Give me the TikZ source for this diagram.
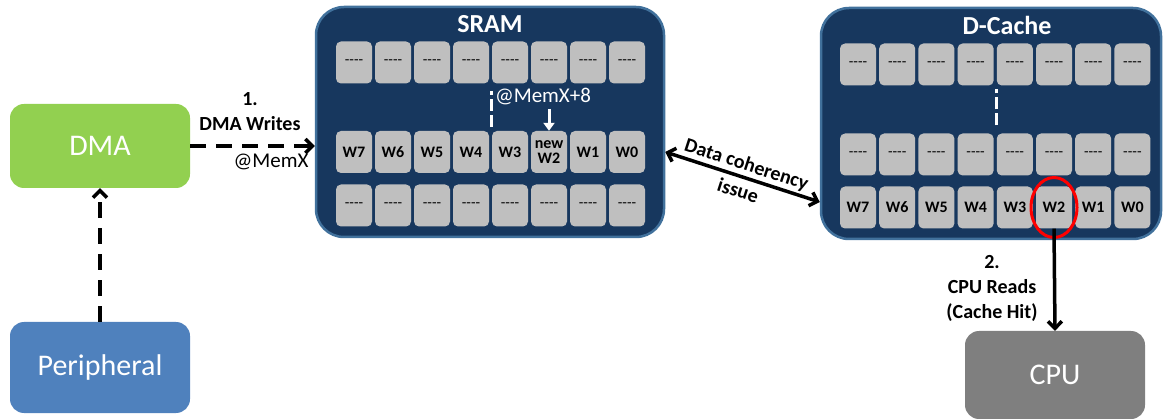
\documentclass[tikz,border=0pt]{standalone}
\usepackage{fontspec}
\setmainfont{Carlito}
\usetikzlibrary{arrows.meta,shapes.geometric}
\definecolor{dmagreen}{HTML}{92D050}
\definecolor{periblue}{HTML}{4F81BD}
\definecolor{cpugray}{HTML}{7F7F7F}
\definecolor{navy}{HTML}{17375E}
\definecolor{navyedge}{HTML}{41719C}
\definecolor{cellgray}{HTML}{BFBFBF}
\newcommand\dashes{-{}-{}-{}-}
\begin{document}
\begin{tikzpicture}[x=1pt,y=-1pt,
  blk/.style={rounded corners=14pt, minimum width=180pt, inner sep=0pt, text=white, font=\fontsize{30}{36}\selectfont},
  mem/.style={fill=navy, draw=navyedge, line width=2.5pt, rounded corners=28pt, inner sep=0pt},
  title/.style={text=white, font=\fontsize{26}{30}\selectfont\bfseries},
  cell/.style={fill=cellgray, rounded corners=5pt, minimum width=36pt, minimum height=42pt, inner sep=0pt, align=center, font=\fontsize{16}{15}\selectfont\bfseries},
  blank/.style={cell, font=\fontsize{15}{15}\selectfont},
  lbl/.style={font=\fontsize{20}{25}\selectfont\bfseries, align=center},
  wire/.style={line width=3.5pt, -{Straight Barb[length=7pt,width=14pt]}}]
\useasboundingbox (0,0) rectangle (1164,419);

% blocks
\node[blk, fill=dmagreen, minimum height=84pt] (dma) at (100,146) {DMA};
\node[blk, fill=periblue, minimum height=91pt] (periph) at (100,367.5) {Peripheral};
\node[blk, fill=cpugray, minimum height=88pt] (cpu) at (1055,375) {CPU};

% memories
\node[mem, minimum width=348pt, minimum height=230pt] (sram) at (490,122) {};
\node[mem, minimum width=340pt, minimum height=231pt] (dcache) at (991,123.5) {};
\node[title] (sramlbl) at (490,24) {SRAM};
\node[title] (dcachelbl) at (1007,25) {D-Cache};

\foreach \t [count=\i from 0] in {W7,W6,W5,W4,W3,{new\\W2},W1,W0} {
  \node[blank] (s1-\i) at (354+39*\i,62.5) {\dashes};
  \node[cell] (s2-\i) at (354+39*\i,152) {\t};
  \node[blank] (s3-\i) at (354+39*\i,205.5) {\dashes};
}
\foreach \t [count=\i from 0] in {W7,W6,W5,W4,W3,W2,W1,W0} {
  \node[blank] (c1-\i) at (858+39.2*\i,64.5) {\dashes};
  \node[blank] (c2-\i) at (858+39.2*\i,154.5) {\dashes};
  \node[cell] (c3-\i) at (858+39.2*\i,207.5) {\t};
}

% white marks inside the memories
\draw[white, line width=3pt, dash pattern=on 12pt off 4pt] ([yshift=4pt]s2-4.north west) -- ++(0,-36);
\draw[white, line width=3pt, dash pattern=on 12pt off 4pt] ([yshift=8pt]c2-4.north west) -- ++(0,-36);
\node[white, font=\fontsize{21}{24}\selectfont] (memx8) at (543,97) {@MemX+8};
\draw[white, line width=3pt, -{Triangle[length=8pt,width=11pt]}] (memx8.south -| s2-5) -- (s2-5.north);
\node[draw=red, line width=3pt, ellipse, minimum width=46pt, minimum height=60pt, inner sep=0pt] (hit) at (c3-5) {};

% connectors
\draw[wire, dash pattern=on 16pt off 10pt] (periph) -- (dma);
\draw[wire, dash pattern=on 16pt off 10pt] (dma.east) -- (dma.east -| sram.west);
\node[lbl] (step1) at (250,112) {1.\\DMA Writes};
\node[font=\fontsize{21}{24}\selectfont] (memx) at (271,162) {@MemX};

\draw[wire, {Straight Barb[length=7pt,width=14pt]}-{Straight Barb[length=7pt,width=14pt]}]
  ([yshift=-30pt]sram.east) -- ([yshift=-78.5pt]dcache.west)
  node[midway, sloped, font=\fontsize{20}{28}\selectfont\bfseries, align=center] (issue) {Data coherency\\issue};

\draw[wire] (c3-5.south) -- (cpu.north);
\node[lbl] (step2) at (992,288) {2.\\CPU Reads\\(Cache Hit)};
\end{tikzpicture}
\end{document}
